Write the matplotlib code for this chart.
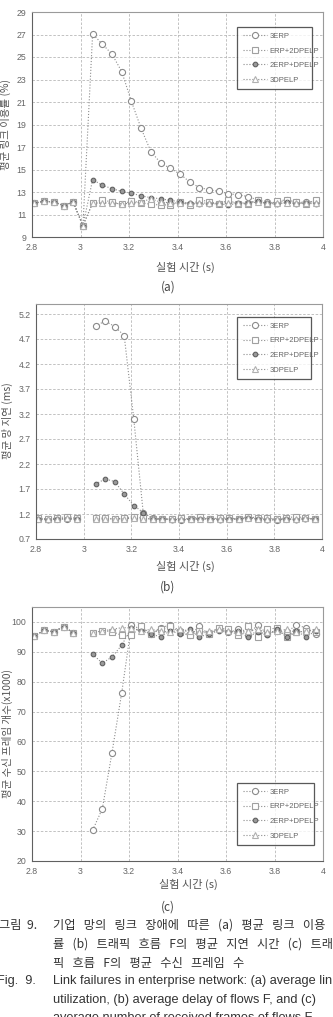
import numpy as np
import matplotlib
matplotlib.use("Agg")
import matplotlib.pyplot as plt

plt.rcParams['font.family'] = ['Noto Sans CJK KR', 'DejaVu Sans']

# time axis (s); 3.01 is missing in (b) and (c)
times = [2.81, 2.85, 2.89, 2.93, 2.97, 3.01, 3.05, 3.09, 3.13, 3.17,
         3.21, 3.25, 3.29, 3.33, 3.37, 3.41, 3.45, 3.49, 3.53, 3.57,
         3.61, 3.65, 3.69, 3.73, 3.77, 3.81, 3.85, 3.89, 3.93, 3.97]
nan = np.nan
series_names = ["3ERP", "ERP+2DPELP", "2ERP+DPELP", "3DPELP"]

# (a) average link utilization (%)
util_3erp = [12.0, 12.2, 12.1, 11.8, 12.1, 10.0, 27.05, 26.15, 25.25, 23.7,
             21.05, 18.65, 16.6, 15.6, 15.1, 14.6, 13.9, 13.4, 13.2, 13.05,
             12.85, 12.75, 12.6, 12.3, 12.1, 12.05, 12.3, 12.1, 12.1, 12.2]
util_erp2d = [12.0, 12.2, 12.1, 11.8, 12.1, 10.0, 12.05, 12.3, 12.1, 11.9,
              12.2, 12.05, 11.9, 11.85, 11.85, 12.1, 11.85, 12.3, 12.15, 11.95,
              12.25, 11.95, 11.95, 12.3, 11.9, 12.2, 12.3, 12.1, 11.9, 12.3]
util_2erpd = [12.0, 12.2, 12.1, 11.8, 12.1, 10.0, 14.1, 13.6, 13.3, 13.05,
              12.9, 12.65, 12.5, 12.4, 12.25, 12.15, 12.0, 11.9, 11.95, 11.95,
              11.85, 12.0, 12.0, 12.2, 12.0, 11.9, 12.1, 11.95, 12.0, 11.95]
util_3d = [12.0, 12.2, 12.1, 11.8, 12.1, 10.0, 12.0, 12.05, 12.0, 11.95,
           12.0, 12.1, 12.4, 12.1, 12.05, 12.0, 12.0, 12.05, 12.0, 12.0,
           12.0, 12.05, 12.0, 12.1, 12.0, 12.0, 12.05, 12.0, 12.05, 12.0]

# (b) average delay (ms)
delay_3erp = [1.10, 1.10, 1.10, 1.10, 1.10, nan, 4.96, 5.06, 4.95, 4.77,
              3.11, 1.22, 1.12, 1.10, 1.10, 1.08, 1.10, 1.12, 1.10, 1.10,
              1.10, 1.10, 1.13, 1.12, 1.10, 1.08, 1.10, 1.10, 1.12, 1.10]
delay_erp2d = [1.12, 1.10, 1.12, 1.15, 1.12, nan, 1.12, 1.12, 1.10, 1.12,
               1.15, 1.12, 1.10, 1.10, 1.10, 1.12, 1.10, 1.15, 1.10, 1.12,
               1.12, 1.10, 1.15, 1.12, 1.12, 1.10, 1.12, 1.15, 1.12, 1.10]
delay_2erpd = [1.10, 1.08, 1.10, 1.10, 1.10, nan, 1.80, 1.90, 1.85, 1.60,
               1.37, 1.23, 1.10, 1.10, 1.08, 1.08, 1.10, 1.10, 1.10, 1.08,
               1.10, 1.10, 1.12, 1.10, 1.08, 1.08, 1.10, 1.08, 1.10, 1.10]
delay_3d = [1.10, 1.10, 1.10, 1.12, 1.10, nan, 1.10, 1.10, 1.10, 1.10,
            1.12, 1.10, 1.10, 1.10, 1.10, 1.10, 1.10, 1.10, 1.10, 1.10,
            1.10, 1.10, 1.12, 1.10, 1.10, 1.10, 1.10, 1.10, 1.12, 1.10]

# (c) average received frames (x1000)
frames_3erp = [95.3, 97.2, 96.7, 98.4, 96.4, nan, 30.3, 37.5, 56.3, 76.3,
               99.0, 97.5, 96.0, 98.0, 99.0, 97.0, 95.5, 98.5, 95.8, 97.8,
               96.5, 97.5, 95.5, 99.0, 96.0, 97.0, 96.5, 99.0, 98.0, 96.0]
frames_erp2d = [95.3, 97.2, 96.7, 98.4, 96.4, nan, 96.4, 97.0, 96.8, 95.5,
                95.5, 98.5, 96.0, 97.5, 98.5, 96.5, 95.5, 97.0, 96.0, 98.0,
                97.5, 95.5, 98.5, 95.0, 97.5, 98.0, 95.0, 96.5, 97.0, 96.5]
frames_2erpd = [95.3, 97.2, 96.7, 98.4, 96.4, nan, 89.2, 86.2, 88.3, 92.2,
                98.0, 97.0, 96.0, 95.0, 97.0, 96.0, 97.5, 95.0, 96.0, 97.0,
                96.5, 97.0, 95.0, 96.5, 95.5, 97.5, 95.0, 97.0, 95.0, 97.0]
frames_3d = [95.3, 97.2, 96.7, 98.4, 96.4, nan, 96.4, 97.0, 97.5, 98.1,
             98.0, 97.0, 97.5, 97.0, 96.5, 97.5, 97.0, 96.5, 97.0, 97.5,
             97.0, 96.5, 97.0, 97.5, 96.5, 97.0, 97.5, 96.5, 97.0, 97.5]

xticks = [2.8, 3, 3.2, 3.4, 3.6, 3.8, 4]
xticklabels = ["2.8", "3", "3.2", "3.4", "3.6", "3.8", "4"]

styles = [
    dict(marker="o", mfc="white", mec="#8a8a8a", ms=4.4, mew=0.8),
    dict(marker="s", mfc="white", mec="#a0a0a0", ms=4.2, mew=0.8),
    dict(marker="o", mfc="#9a9a9a", mec="#606060", ms=3.3, mew=0.8),
    dict(marker="^", mfc="white", mec="#b0b0b0", ms=4.2, mew=0.8),
]

fig = plt.figure(figsize=(3.33, 10.17), dpi=100)
W, H = 333.0, 1017.0


def make_axes(left, right, top, bottom):
    return fig.add_axes([left / W, 1 - bottom / H, (right - left) / W, (bottom - top) / H])


def draw_panel(ax, data, ylim, yticks, leg_box):
    for vals, name, st in zip(data, series_names, styles):
        ax.plot(times, vals, ls=":", lw=0.8, color="#8c8c8c", label=name, **st)
    ax.set_xlim(2.8, 4)
    ax.set_ylim(*ylim)
    ax.set_xticks(xticks)
    ax.set_xticklabels(xticklabels)
    ax.set_yticks(yticks)
    ax.set_yticklabels([("%g" % v) for v in yticks])
    ax.grid(True, ls=(0, (3, 2)), lw=0.6, color="#b8b8b8")
    ax.tick_params(length=0, labelsize=6.3, colors="#666666", pad=4)
    for lab in ax.get_xticklabels() + ax.get_yticklabels():
        lab.set_family("Liberation Sans")
    for sp in ax.spines.values():
        sp.set_color("#9a9a9a")
        sp.set_linewidth(0.8)
    ax.spines["left"].set_color("#606060")
    ax.spines["bottom"].set_color("#606060")
    leg = ax.legend(loc="upper left", bbox_to_anchor=leg_box, mode="expand",
                    fontsize=5.5, frameon=True, fancybox=False, handlelength=3.2,
                    labelspacing=0.95, borderpad=0.75, handletextpad=0.3)
    leg.get_frame().set_edgecolor("#303030")
    leg.get_frame().set_linewidth(0.9)
    for t in leg.get_texts():
        t.set_color("#666666")
        t.set_family("Liberation Sans")


# (a)
ax1 = make_axes(32, 323, 12, 237)
draw_panel(ax1, [util_3erp, util_erp2d, util_2erpd, util_3d], (9, 29),
           list(range(9, 30, 2)), (0.691, 0.68, 0.285, 0.271))
fig.text(5 / W, 1 - 124 / H, "평균 링크 이용률 (%)", rotation=90, ha="center", va="center",
         fontsize=7.5, color="#555555")
fig.text(185 / W, 1 - 267 / H, "실험 시간 (s)", ha="center", va="center", fontsize=8, color="#555555")
fig.text(168 / W, 1 - 287 / H, "(a)", ha="center", va="center", fontsize=8.5, color="#444444")

# (b)
ax2 = make_axes(36, 322, 304, 539)
draw_panel(ax2, [delay_3erp, delay_erp2d, delay_2erpd, delay_3d], (0.7, 5.4),
           [0.7, 1.2, 1.7, 2.2, 2.7, 3.2, 3.7, 4.2, 4.7, 5.2],
           (0.689, 0.689, 0.287, 0.273))
fig.text(7 / W, 1 - 421 / H, "평균 망 지연 (ms)", rotation=90, ha="center", va="center",
         fontsize=7.5, color="#555555")
fig.text(185 / W, 1 - 566 / H, "실험 시간 (s)", ha="center", va="center", fontsize=8, color="#555555")
fig.text(168 / W, 1 - 587 / H, "(b)", ha="center", va="center", fontsize=8.5, color="#444444")

# (c)
ax3 = make_axes(32, 323, 607, 861)
draw_panel(ax3, [frames_3erp, frames_erp2d, frames_2erpd, frames_3d], (20, 105),
           list(range(20, 101, 10)), (0.691, 0.059, 0.292, 0.264))
fig.text(7 / W, 1 - 734 / H, "평균 수신 프레임 개수(x1000)", rotation=90, ha="center", va="center",
         fontsize=7.5, color="#555555")
fig.text(188 / W, 1 - 884 / H, "실험 시간 (s)", ha="center", va="center", fontsize=8, color="#555555")
fig.text(168 / W, 1 - 907 / H, "(c)", ha="center", va="center", fontsize=8.5, color="#444444")

# figure caption (justified look: wide word gaps)
cap_kr = [["기업", "망의", "링크", "장애에", "따른", "(a)", "평균", "링크", "이용"],
          ["률", "(b)", "트래픽", "흐름", "F의", "평균", "지연", "시간", "(c)", "트래"],
          ["픽", "흐름", "F의", "평균", "수신", "프레임", "수"]]
cap_en = ["Link failures in enterprise network: (a) average link",
          "utilization, (b) average delay of flows F, and (c)",
          "average number of received frames of flows F."]
fig.text(-1 / W, 1 - 925 / H, "그림  9.", ha="left", va="center", fontsize=8.8, color="#333333")
for i, words in enumerate(cap_kr):
    fig.text(53 / W, 1 - (925 + 19 * i) / H, "   ".join(words), ha="left", va="center",
             fontsize=8.8, color="#333333")
fig.text(-3 / W, 1 - 981 / H, "Fig.  9.", ha="left", va="center", fontsize=9.2,
         color="#333333", family="Liberation Sans")
for i, line in enumerate(cap_en):
    fig.text(53 / W, 1 - (981 + 18.5 * i) / H, line, ha="left", va="center", fontsize=9.2,
             color="#333333", family="Liberation Sans")

fig.savefig("out.png", dpi=100)
